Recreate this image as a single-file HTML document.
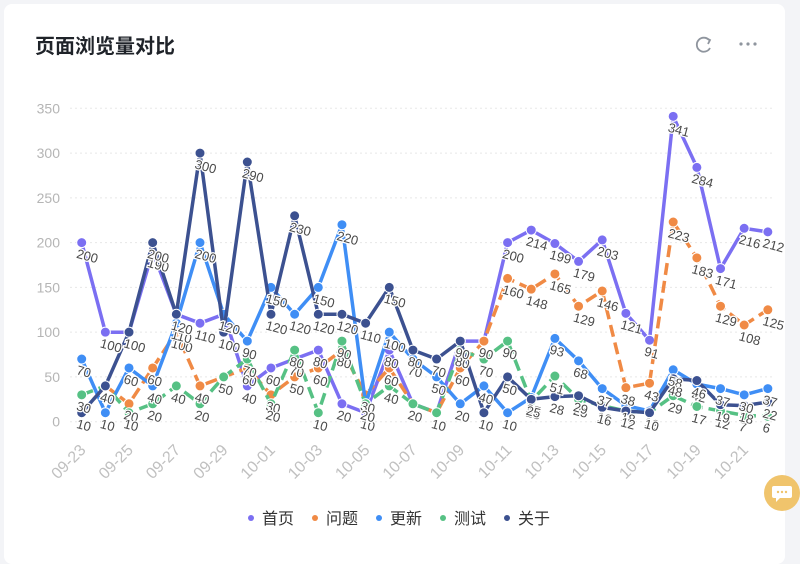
<!DOCTYPE html>
<html><head><meta charset="utf-8"><style>
html,body{margin:0;padding:0;background:#f3f4f7;}
body{width:800px;height:554px;overflow:hidden;position:relative;font-family:"Liberation Sans","Noto Sans CJK SC",sans-serif;}
.card{position:absolute;left:4px;top:4px;width:781px;height:560px;background:#fff;border-radius:8px;}
.title{position:absolute;left:35px;top:30px;font-size:20px;font-weight:bold;color:#1f2329;}
.chat{position:absolute;left:764px;top:475px;width:36px;height:36px;border-radius:18px;background:#f0c46c;}
</style></head><body>
<div class="card"></div>
<div class="title">页面浏览量对比</div>
<svg width="800" height="554" style="position:absolute;left:0;top:0" id="s" xmlns="http://www.w3.org/2000/svg">
<g fill="none" stroke="#8f959e" stroke-width="1.8">
<path d="M709 40 A7 7 0 1 0 710 48"/><path d="M706 38 L710 40 L708 44"/>
</g>
<g fill="#8f959e"><circle cx="741" cy="44" r="1.6"/><circle cx="748" cy="44" r="1.6"/><circle cx="755" cy="44" r="1.6"/></g>
</svg>
<div class="chat"><svg width="36" height="36"><path d="M10 11 h16 a2 2 0 0 1 2 2 v8 a2 2 0 0 1 -2 2 h-10 l-4 4 v-4 h-2 a2 2 0 0 1 -2 -2 v-8 a2 2 0 0 1 2 -2z" fill="#fff"/><circle cx="14" cy="17" r="1.2" fill="#f0c46c"/><circle cx="18" cy="17" r="1.2" fill="#f0c46c"/><circle cx="22" cy="17" r="1.2" fill="#f0c46c"/></svg></div>
<script>
var s=document.getElementById('s'),h='';
function Y(v){return 421.7-v*0.8954;}
function X(i){return 81.7+23.66*i;}
for(var v=0;v<=350;v+=50){h+='<line x1="70" x2="775" y1="'+Y(v)+'" y2="'+Y(v)+'" stroke="#e8e8e8" stroke-dasharray="2,3"/>';
h+='<text x="60" y="'+(Y(v)+5)+'" text-anchor="end" font-size="14" fill="#b5b5b5">'+v+'</text>';}
var d=['09-23','09-25','09-27','09-29','10-01','10-03','10-05','10-07','10-09','10-11','10-13','10-15','10-17','10-19','10-21'];
for(var k=0;k<d.length;k++){var x=X(2*k)+5;h+='<text transform="translate('+x+',451) rotate(-45)" text-anchor="end" font-size="16" fill="#c0c0c0">'+d[k]+'</text>';}
var S=[
['#7b6ff2',[200,100,100,190,120,110,120,40,60,70,80,20,10,80,20,10,90,90,200,214,199,179,203,121,91,341,284,171,216,212]],
['#f08a45',[10,40,20,60,100,40,50,60,30,50,60,80,30,60,20,10,60,90,160,148,165,129,146,38,43,223,183,129,108,125]],
['#3f8ef5',[70,10,60,40,110,200,120,90,150,120,150,220,20,100,70,50,20,40,10,27,93,68,37,18,12,58,42,37,30,37]],
['#56c184',[30,40,10,20,40,20,50,70,20,80,10,90,20,40,20,10,80,70,90,23,51,25,18,12,10,29,17,12,7,6]],
['#3c5190',[10,40,100,200,120,300,100,290,120,230,120,120,110,150,80,70,90,10,50,25,28,29,16,12,10,48,46,19,18,22]]];
var lab='';
S.forEach(function(o,si){var c=o[0],a=o[1],p='';
a.forEach(function(v,i){p+=(i?'L':'M')+X(i).toFixed(1)+' '+Y(v).toFixed(1);});
h+='<path d="'+p+'" fill="none" stroke="'+c+'" stroke-width="3.5" stroke-linejoin="round"'+(si%2?' stroke-dasharray="12,6"':'')+'/>';
a.forEach(function(v,i){h+='<circle cx="'+X(i)+'" cy="'+Y(v)+'" r="5" fill="'+c+'" stroke="#fff" stroke-width="1"/>';
lab+='<text transform="translate('+(X(i)-6)+','+(Y(v)+15)+') rotate(15)" font-size="13" fill="#4a4a4a" stroke="#fff" stroke-width="2.5" paint-order="stroke">'+v+'</text>';});
});
h+=lab;
var L=['首页','问题','更新','测试','关于'];
for(var k=0;k<5;k++){var x=251+64*k;h+='<circle cx="'+x+'" cy="518" r="3" fill="'+S[k][0]+'"/><text x="'+(x+11)+'" y="524" font-size="16" fill="#333">'+L[k]+'</text>';}
s.insertAdjacentHTML('beforeend',h);
</script>
</body></html>
